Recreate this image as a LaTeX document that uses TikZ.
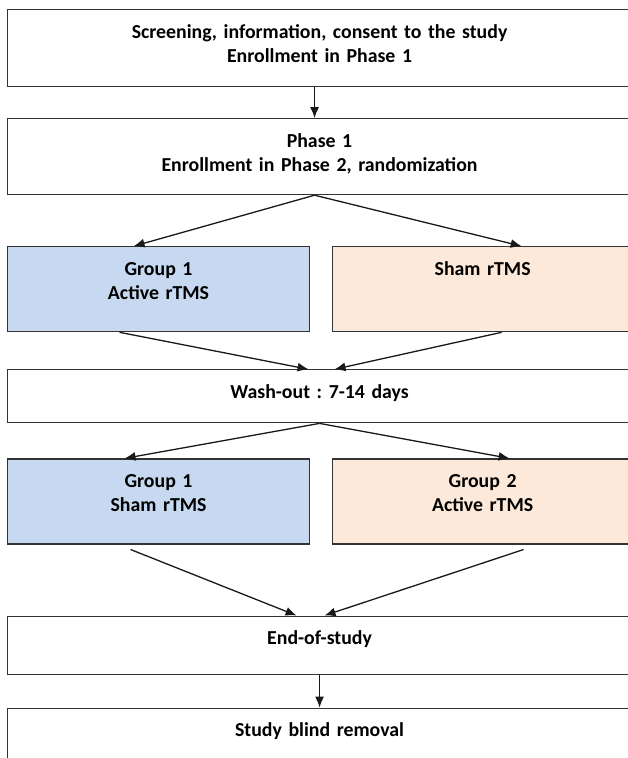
\documentclass[tikz,border=0pt]{standalone}
\usepackage{fontspec}
\setmainfont{Carlito}
\usepackage{xcolor}
\usetikzlibrary{positioning, arrows.meta}

\definecolor{groupblue}{HTML}{C6D9F0}
\definecolor{grouppeach}{HTML}{FDE9D9}

\begin{document}
\begin{tikzpicture}[x=1pt, y=1pt,
	box/.style={draw=black!80, line width=1.1pt, inner sep=0pt, align=center,
		font=\fontsize{19.8}{24}\selectfont\bfseries\frenchspacing, text height=28.5pt, text depth=#1},
	wide/.style={box=#1, text width=624pt},
	bluebox/.style={box=#1, fill=groupblue, text width=302pt},
	peachbox/.style={box=#1, fill=grouppeach, text width=300pt},
	arr/.style={-{Latex[length=11pt,width=9pt]}, line width=1.3pt, black!90}]
\useasboundingbox (0,0) rectangle (627,-758);

\node[wide=48.5pt, anchor=north west]	(screen)	at (7,-9)	{Screening, information, consent to the study\\Enrollment in Phase 1};
\node[wide=47.5pt]	(phase1)	[below=31pt of screen]		{Phase 1\\Enrollment in Phase 2, randomization};
\node[bluebox=56.5pt]	(g1a)	[below=51pt of phase1.south west, anchor=north west]	{Group 1\\Active rTMS};
\node[peachbox=56.5pt]	(g2a)	[right=22pt of g1a]		{Sham rTMS};
\node[wide=24.5pt]	(wash)	[below=37pt of g1a.south west, anchor=north west]	{Wash-out : 7-14 days};
\node[bluebox=56.5pt]	(g1b)	[below=35pt of wash.south west, anchor=north west]	{Group 1\\Sham rTMS};
\node[peachbox=56.5pt]	(g2b)	[right=22pt of g1b]		{Group 2\\Active rTMS};
\node[wide=29.5pt]	(eos)	[below=71pt of g1b.south west, anchor=north west]	{End-of-study};
\node[wide=42pt]	(blind)	[below=33pt of eos]		{Study blind removal};

\path[arr]	([xshift=-5pt]screen.south)		edge	([xshift=-5pt]phase1.north)
			([xshift=-5pt]phase1.south)		edge	([xshift=-25pt]g1a.north)
			([xshift=-5pt]phase1.south)		edge	([xshift=39pt]g2a.north)
			([xshift=-39pt]g1a.south)		edge	([xshift=-11pt]wash.north)
			([xshift=19pt]g2a.south)		edge	([xshift=15pt]wash.north)
			(wash.south)					edge	([xshift=-34pt]g1b.north)
			(wash.south)					edge	([xshift=27pt]g2b.north)
			([xshift=-28pt,yshift=-5pt]g1b.south)	edge	([xshift=-23pt]eos.north)
			([xshift=41pt,yshift=-5pt]g2b.south)	edge	([xshift=5pt]eos.north)
			(eos.south)						edge	(blind.north);
\end{tikzpicture}
\end{document}
